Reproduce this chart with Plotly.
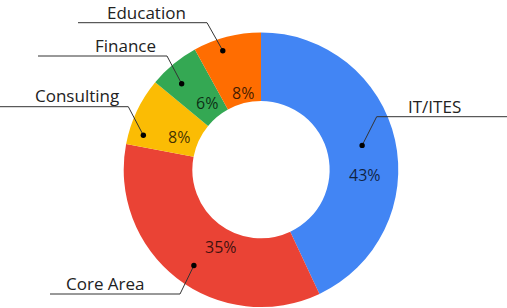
import math
import plotly.graph_objects as go

# ---- data ----
categories = ["IT/ITES", "Core Area", "Consulting", "Finance", "Education"]
shares = [43, 35, 8, 6, 8]
colors = ["#4285F4", "#EA4335", "#FBBC04", "#34A853", "#FF6D01"]

# ---- layout constants (pixels) ----
W, H = 507, 308
CX, CY, R = 261.0, 169.7, 137.3
HOLE = 0.5
FONT = "Open Sans"

# percent text placement: angular nudge (deg) and radius from centre
TEXT_NUDGE = [15.4, -10.4, -3.4, 0.4, 1.1]
TEXT_R = [104, 87.5, 88, 86, 79]
# leader dot placement
DOT_NUDGE = [-0.9, -2.8, -8.9, -3.1, -3.4]
DOT_R = [104, 117, 122.6, 117, 125]
# leader elbows, line ends and label centres
ELBOW = [(376.7, 116.7), (180, 294), (128.3, 106.7), (167, 56), (207, 22.7)]
LINE_END_X = [507, 50, 0, 38, 78]
LABEL_POS = [(434.5, 106.0), (105.3, 283.0), (77, 95), (125.5, 45), (146.7, 12.3)]

total = sum(shares)


def polar(angle_deg, r):
    a = math.radians(angle_deg)
    return CX + r * math.sin(a), CY - r * math.cos(a)


fig = go.Figure()
fig.add_trace(go.Pie(
    labels=categories, values=shares, sort=False, direction="clockwise",
    rotation=0, hole=HOLE, marker=dict(colors=colors, line=dict(width=0)),
    textinfo="none", hoverinfo="label+percent", showlegend=False,
    domain=dict(x=[(CX - R) / W, (CX + R) / W],
                y=[(H - CY - R) / H, (H - CY + R) / H]),
))

shapes = []
annotations = []
cum = 0
for i, (cat, v) in enumerate(zip(categories, shares)):
    mid = 360 * (cum + v / 2) / total
    cum += v
    tx, ty = polar(mid + TEXT_NUDGE[i], TEXT_R[i])
    annotations.append(dict(
        x=tx, y=ty, xref="x", yref="y", text=f"{round(100 * v / total)}%",
        showarrow=False, font=dict(family=FONT, size=16, color="rgba(0,0,0,0.75)"),
        xanchor="center", yanchor="middle"))
    dx, dy = polar(mid + DOT_NUDGE[i], DOT_R[i])
    ex, ey = ELBOW[i]
    shapes.append(dict(
        type="path", xref="x", yref="y",
        path=f"M {dx},{dy} L {ex},{ey} L {LINE_END_X[i]},{ey}",
        line=dict(color="#333333", width=1), layer="above"))
    rdot = 2.7
    shapes.append(dict(
        type="circle", xref="x", yref="y", x0=dx - rdot, x1=dx + rdot,
        y0=dy - rdot, y1=dy + rdot, fillcolor="#000000",
        line=dict(width=0), layer="above"))
    lx, ly = LABEL_POS[i]
    annotations.append(dict(
        x=lx, y=ly, xref="x", yref="y", text=cat, showarrow=False,
        font=dict(family=FONT, size=17, color="#222222"),
        xanchor="center", yanchor="middle"))

fig.update_layout(
    width=W, height=H, margin=dict(l=0, r=0, t=0, b=0),
    paper_bgcolor="white", plot_bgcolor="rgba(0,0,0,0)",
    xaxis=dict(range=[0, W], visible=False, fixedrange=True, domain=[0, 1]),
    yaxis=dict(range=[H, 0], visible=False, fixedrange=True, domain=[0, 1]),
    shapes=shapes, annotations=annotations,
)
fig.write_html("out.html")
